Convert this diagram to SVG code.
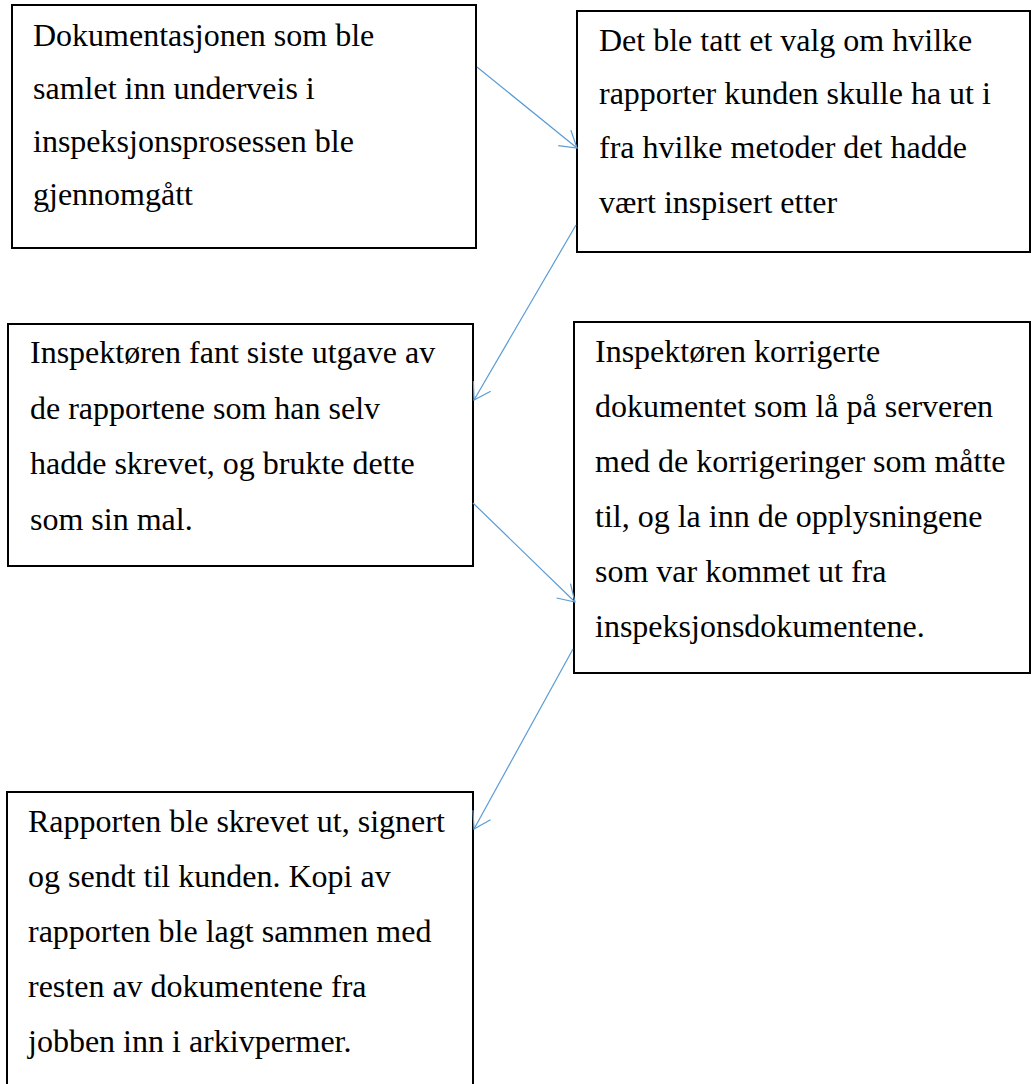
<svg xmlns="http://www.w3.org/2000/svg" width="1032" height="1084" viewBox="0 0 1032 1084">
  <style>
    .box { fill: #ffffff; stroke: #000000; stroke-width: 2; }
    .txt { font-family: "Liberation Serif", "Times New Roman", serif; font-size: 32px; fill: #000000; }
    .link { fill: none; stroke: #5B9BD5; stroke-width: 1.2; }
  </style>
  <defs>
    <!-- open (two-stroke) arrowhead used by every connector -->
    <marker id="open-arrow" markerUnits="userSpaceOnUse" viewBox="-18 -12 20 24" markerWidth="20" markerHeight="24" refX="0" refY="0" orient="auto" overflow="visible">
      <path d="M-16,-10 L0,0 L-16,10" fill="none" stroke="#5B9BD5" stroke-width="1.2"/>
    </marker>
  </defs>
  <rect width="1032" height="1084" fill="#ffffff"/>

  <g id="step-documentation">
    <rect class="box" x="12" y="5" width="464" height="243"/>
    <text class="txt">
      <tspan x="33" y="45.5">Dokumentasjonen som ble</tspan>
      <tspan x="33" y="99">samlet inn underveis i</tspan>
      <tspan x="33" y="152">inspeksjonsprosessen ble</tspan>
      <tspan x="33" y="205">gjennomgått</tspan>
    </text>
  </g>

  <g id="step-report-choice">
    <rect class="box" x="577" y="11" width="453" height="241"/>
    <text class="txt">
      <tspan x="599" y="50.5">Det ble tatt et valg om hvilke</tspan>
      <tspan x="599" y="104">rapporter kunden skulle ha ut i</tspan>
      <tspan x="599" y="158">fra hvilke metoder det hadde</tspan>
      <tspan x="599" y="213">vært inspisert etter</tspan>
    </text>
  </g>

  <g id="step-template">
    <rect class="box" x="8" y="324" width="465" height="242"/>
    <text class="txt">
      <tspan x="30" y="363">Inspektøren fant siste utgave av</tspan>
      <tspan x="30" y="418.5">de rapportene som han selv</tspan>
      <tspan x="30" y="474">hadde skrevet, og brukte dette</tspan>
      <tspan x="30" y="530">som sin mal.</tspan>
    </text>
  </g>

  <g id="step-correction">
    <rect class="box" x="574" y="322" width="456" height="351"/>
    <text class="txt">
      <tspan x="595" y="362">Inspektøren korrigerte</tspan>
      <tspan x="595" y="417">dokumentet som lå på serveren</tspan>
      <tspan x="595" y="472">med de korrigeringer som måtte</tspan>
      <tspan x="595" y="527">til, og la inn de opplysningene</tspan>
      <tspan x="595" y="582">som var kommet ut fra</tspan>
      <tspan x="595" y="637">inspeksjonsdokumentene.</tspan>
    </text>
  </g>

  <g id="step-delivery">
    <rect class="box" x="7" y="792" width="466" height="300"/>
    <text class="txt">
      <tspan x="28" y="832">Rapporten ble skrevet ut, signert</tspan>
      <tspan x="28" y="887">og sendt til kunden. Kopi av</tspan>
      <tspan x="28" y="942">rapporten ble lagt sammen med</tspan>
      <tspan x="28" y="997">resten av dokumentene fra</tspan>
      <tspan x="28" y="1052">jobben inn i arkivpermer.</tspan>
    </text>
  </g>

  <g id="connectors">
    <line class="link" x1="477" y1="67" x2="577" y2="148" marker-end="url(#open-arrow)"/>
    <line class="link" x1="576" y1="225" x2="474" y2="400" marker-end="url(#open-arrow)"/>
    <line class="link" x1="473" y1="503" x2="575" y2="602" marker-end="url(#open-arrow)"/>
    <line class="link" x1="573" y1="649" x2="474" y2="829" marker-end="url(#open-arrow)"/>
  </g>
</svg>
